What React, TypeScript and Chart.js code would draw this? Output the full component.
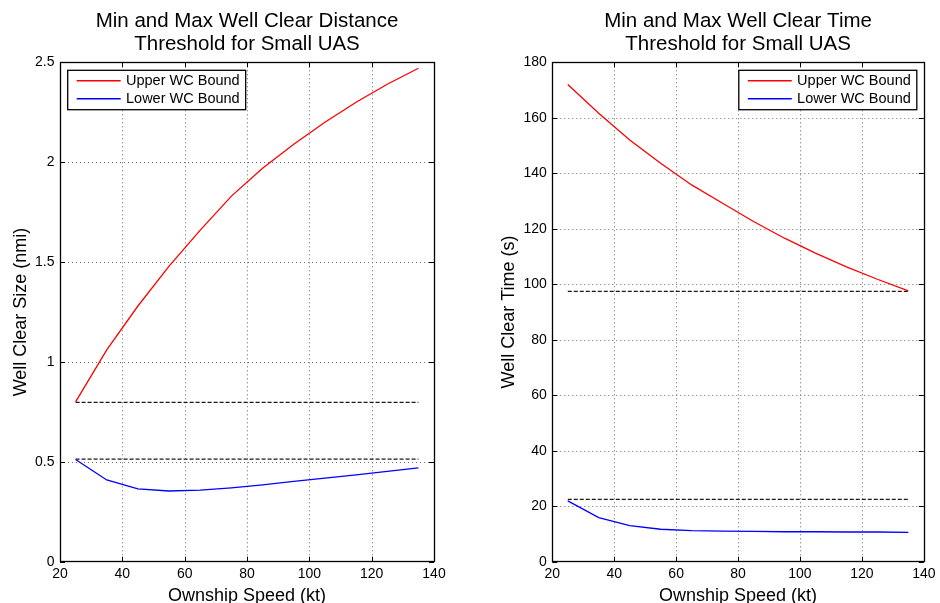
import React, { useEffect, useRef } from "react";
import { Chart, registerables } from "chart.js";

Chart.register(...registerables);

// ---------- data ----------
const speeds = [25, 35, 45, 55, 65, 75, 85, 95, 105, 115, 125, 135];
const distUpper = [0.8, 1.06, 1.28, 1.48, 1.66, 1.83, 1.97, 2.09, 2.2, 2.3, 2.39, 2.47];
const distLower = [0.512, 0.409, 0.365, 0.354, 0.358, 0.37, 0.385, 0.402, 0.418, 0.435, 0.452, 0.47];
const distThresholds = [0.798, 0.513];
const timeUpper = [172, 161.6, 152, 143.6, 135.8, 129.2, 122.6, 116.6, 111.2, 106.3, 101.8, 97.6];
const timeLower = [21.9, 15.9, 13.0, 11.7, 11.2, 11.0, 10.9, 10.8, 10.8, 10.7, 10.7, 10.6];
const timeThresholds = [97.4, 22.5];
const thresholdSpan = [25, 135];
const xRange = [20, 140];
const xStep = 20;
const distRange = [0, 2.5];
const distStep = 0.5;
const timeRange = [0, 180];
const timeStep = 20;
const legendLabels = ["Upper WC Bound", "Lower WC Bound"];
const distTitle = ["Min and Max Well Clear Distance", "Threshold for Small UAS"];
const timeTitle = ["Min and Max Well Clear Time", "Threshold for Small UAS"];
const xLabel = "Ownship Speed (kt)";
const distYLabel = "Well Clear Size (nmi)";
const timeYLabel = "Well Clear Time (s)";

const FONT = '"Liberation Sans", Arial, Helvetica, sans-serif';
const W = 940;
const H = 603;
const AREA_TOP = 62.3;
const AREA_BOTTOM = 561.7;
const Y_AXIS_W = 50;
const X_AXIS_H = 30;

const fmt = (v: any) => String(Math.round(Number(v) * 1000) / 1000);

const matlabPlugin = {
  id: "matlab",
  beforeDatasetsDraw(chart: any) {
    const { ctx, chartArea: a } = chart;
    const x = chart.scales.x;
    const y = chart.scales.y;
    ctx.save();
    ctx.strokeStyle = "#707070";
    ctx.lineWidth = 1;
    ctx.setLineDash([1, 3]);
    for (const t of x.ticks) {
      if (t.value <= x.min || t.value >= x.max) continue;
      const px = Math.round(x.getPixelForValue(t.value)) + 0.5;
      ctx.beginPath();
      ctx.moveTo(px, a.top);
      ctx.lineTo(px, a.bottom);
      ctx.stroke();
    }
    for (const t of y.ticks) {
      if (t.value <= y.min || t.value >= y.max) continue;
      const py = Math.round(y.getPixelForValue(t.value)) + 0.5;
      ctx.beginPath();
      ctx.moveTo(a.left, py);
      ctx.lineTo(a.right, py);
      ctx.stroke();
    }
    ctx.restore();
  },
  afterDatasetsDraw(chart: any, _a: any, opts: any) {
    const { ctx, chartArea: a } = chart;
    const x = chart.scales.x;
    const y = chart.scales.y;
    ctx.save();
    // inward ticks
    ctx.strokeStyle = "#000";
    ctx.lineWidth = 1;
    ctx.setLineDash([]);
    const tl = 5;
    for (const t of x.ticks) {
      const px = Math.round(x.getPixelForValue(t.value)) + 0.5;
      ctx.beginPath();
      ctx.moveTo(px, a.bottom);
      ctx.lineTo(px, a.bottom - tl);
      ctx.moveTo(px, a.top);
      ctx.lineTo(px, a.top + tl);
      ctx.stroke();
    }
    for (const t of y.ticks) {
      const py = Math.round(y.getPixelForValue(t.value)) + 0.5;
      ctx.beginPath();
      ctx.moveTo(a.left, py);
      ctx.lineTo(a.left + tl, py);
      ctx.moveTo(a.right, py);
      ctx.lineTo(a.right - tl, py);
      ctx.stroke();
    }
    // frame
    ctx.lineWidth = 1.3;
    ctx.strokeRect(Math.round(a.left) + 0.5, Math.round(a.top) + 0.5, Math.round(a.right - a.left), Math.round(a.bottom - a.top));

    // legend
    const bw = 178;
    const bh = 39.4;
    const bx = opts.legendRight ? a.right - 7 - bw : a.left + 7.7;
    const by = a.top + 8;
    ctx.fillStyle = "#fff";
    ctx.fillRect(bx, by, bw, bh);
    ctx.lineWidth = 1.3;
    ctx.strokeStyle = "#000";
    ctx.strokeRect(bx, by, bw, bh);
    ctx.font = `14.5px ${FONT}`;
    ctx.textBaseline = "middle";
    ctx.textAlign = "left";
    const items = chart.data.datasets.filter((d: any) => d.inLegend);
    items.forEach((d: any, i: number) => {
      const ly = by + 10.4 + i * 18;
      ctx.strokeStyle = d.borderColor;
      ctx.lineWidth = 1.5;
      ctx.beginPath();
      ctx.moveTo(bx + 9, ly);
      ctx.lineTo(bx + 53, ly);
      ctx.stroke();
      ctx.fillStyle = "#000";
      ctx.fillText(d.label, bx + 58.3, ly + 0.5);
    });
    ctx.restore();
  },
  afterDraw(chart: any, _a: any, opts: any) {
    const { ctx, chartArea: a } = chart;
    ctx.save();
    ctx.fillStyle = "#000";
    const cx = (a.left + a.right) / 2;
    ctx.textAlign = "center";
    ctx.textBaseline = "alphabetic";
    ctx.font = `20.5px ${FONT}`;
    (opts.title || []).forEach((line: string, i: number) => {
      ctx.fillText(line, cx, 27.3 + i * 22.8);
    });
    ctx.font = `18px ${FONT}`;
    ctx.fillText(opts.xLabel, cx, 600.5);
    ctx.translate(opts.yLabelX, (a.top + a.bottom) / 2);
    ctx.rotate(-Math.PI / 2);
    ctx.fillText(opts.yLabel, 0, 0);
    ctx.restore();
  },
};

function buildConfig(p: {
  upper: number[];
  lower: number[];
  thresholds: number[];
  yRange: number[];
  yStep: number;
  areaLeft: number;
  areaRight: number;
  title: string[];
  yLabel: string;
  yLabelX: number;
  legendRight: boolean;
}): any {
  const line = (vals: number[]) => speeds.map((s, i) => ({ x: s, y: vals[i] }));
  const flat = (v: number) => thresholdSpan.map((s) => ({ x: s, y: v }));
  const dashed = (v: number) => ({
    label: "",
    data: flat(v),
    borderColor: "#1a1a1a",
    borderWidth: 1.3,
    borderDash: [4, 2],
    pointRadius: 0,
    inLegend: false,
  });
  return {
    type: "line",
    data: {
      datasets: [
        { label: legendLabels[0], data: line(p.upper), borderColor: "#ff0000", borderWidth: 1.3, pointRadius: 0, inLegend: true },
        { label: legendLabels[1], data: line(p.lower), borderColor: "#0000ff", borderWidth: 1.3, pointRadius: 0, inLegend: true },
        dashed(p.thresholds[0]),
        dashed(p.thresholds[1]),
      ],
    },
    options: {
      animation: false,
      responsive: false,
      maintainAspectRatio: false,
      devicePixelRatio: 1,
      events: [],
      layout: {
        padding: {
          left: p.areaLeft - Y_AXIS_W,
          right: W - p.areaRight,
          top: AREA_TOP,
          bottom: H - AREA_BOTTOM - X_AXIS_H,
        },
      },
      scales: {
        x: {
          type: "linear",
          min: xRange[0],
          max: xRange[1],
          grid: { display: false, drawTicks: false },
          border: { display: false },
          ticks: { stepSize: xStep, color: "#000", padding: 4.5, font: { family: FONT, size: 14 }, maxRotation: 0, callback: fmt },
          afterFit: (s: any) => {
            s.height = X_AXIS_H;
          },
        },
        y: {
          type: "linear",
          min: p.yRange[0],
          max: p.yRange[1],
          grid: { display: false, drawTicks: false },
          border: { display: false },
          ticks: { stepSize: p.yStep, color: "#000", padding: 5.5, font: { family: FONT, size: 14 }, callback: fmt },
          afterFit: (s: any) => {
            s.width = Y_AXIS_W;
          },
        },
      },
      plugins: {
        legend: { display: false },
        title: { display: false },
        tooltip: { enabled: false },
        matlab: {
          title: p.title,
          xLabel,
          yLabel: p.yLabel,
          yLabelX: p.yLabelX,
          legendRight: p.legendRight,
        },
      },
    },
    plugins: [matlabPlugin],
  };
}

function ChartCanvas({ config }: { config: () => any }) {
  const ref = useRef<HTMLCanvasElement | null>(null);
  useEffect(() => {
    if (!ref.current) return;
    const chart = new Chart(ref.current, config());
    return () => chart.destroy();
  }, []);
  return (
    <canvas
      ref={ref}
      width={W}
      height={H}
      style={{ position: "absolute", left: 0, top: 0, width: W, height: H }}
    />
  );
}

export default function App() {
  return (
    <div style={{ position: "fixed", left: 0, top: 0, width: W, height: H, background: "#fff" }}>
      <ChartCanvas
        config={() =>
          buildConfig({
            upper: distUpper,
            lower: distLower,
            thresholds: distThresholds,
            yRange: distRange,
            yStep: distStep,
            areaLeft: 60,
            areaRight: 434,
            title: distTitle,
            yLabel: distYLabel,
            yLabelX: 26,
            legendRight: false,
          })
        }
      />
      <ChartCanvas
        config={() =>
          buildConfig({
            upper: timeUpper,
            lower: timeLower,
            thresholds: timeThresholds,
            yRange: timeRange,
            yStep: timeStep,
            areaLeft: 552.3,
            areaRight: 926.7,
            title: timeTitle,
            yLabel: timeYLabel,
            yLabelX: 514.3,
            legendRight: true,
          })
        }
      />
    </div>
  );
}
